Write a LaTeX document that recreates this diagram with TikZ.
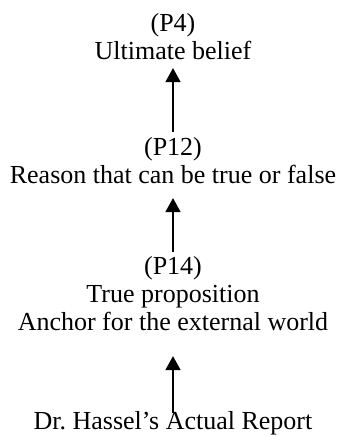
\documentclass[tikz,border=0pt]{standalone}
\usepackage{fontspec}
\setmainfont{Liberation Serif}
\usepackage{tikz}
\usetikzlibrary{arrows.meta}

\begin{document}
\begin{tikzpicture}[x=1pt, y=1pt,
    font=\fontsize{26}{28}\selectfont,
    claim/.style={align=center, inner sep=0pt, anchor=north},
    support/.style={line width=1.6pt, -{Triangle[width=15pt, length=14pt]}}]
  \useasboundingbox (0,0) rectangle (346,-435);

  % ── Paliers de la chaîne ──
  \node[claim] (p4)  at (173,-13.4)  {(P4)\\Ultimate belief};
  \node[claim] (p12) at (173,-136.9) {(P12)\\Reason that can be true or false};
  \node[claim] (p14) at (173,-255.9) {(P14)\\True proposition\\Anchor for the external world};
  \node[claim] (rep) at (173,-411.4) {Dr.~Hassel’s Actual Report};

  % ── Flèches de soutien ──
  \draw[support] ([yshift=4.9]p12.north) -- ([yshift=-8]p4.south);
  \draw[support] ([yshift=3.9]p14.north) -- ([yshift=-14.5]p12.south);
  \draw[support] ([yshift=-1.6]rep.north) -- ([yshift=-25.5]p14.south);

\end{tikzpicture}
\end{document}
